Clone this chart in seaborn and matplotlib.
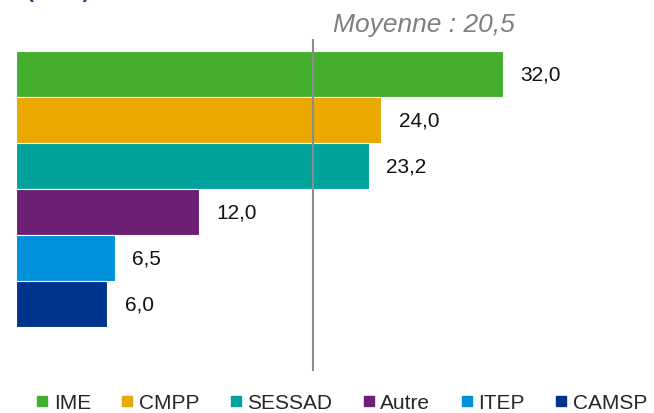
import pandas as pd
import seaborn as sns
import matplotlib.pyplot as plt
from matplotlib.lines import Line2D

# values
categories = ['IME', 'CMPP', 'SESSAD', 'Autre', 'ITEP', 'CAMSP']
values = [32.0, 24.0, 23.2, 12.0, 6.5, 6.0]
labels = ['32,0', '24,0', '23,2', '12,0', '6,5', '6,0']
moyenne_label = 'Moyenne : 20,5'
moyenne_pos = 19.5   # where the mean line is drawn on the bar scale

colors = {
    'IME': '#43AF2C',
    'CMPP': '#EAA800',
    'SESSAD': '#00A39B',
    'Autre': '#6C1F75',
    'ITEP': '#0091DA',
    'CAMSP': '#00338D',
}

sns.set_style('white')
plt.rcParams['font.family'] = ['Liberation Sans', 'DejaVu Sans']

df = pd.DataFrame({'categorie': categories, 'valeur': values})

W, H = 654, 414
f = plt.figure(figsize=(W / 100, H / 100), dpi=100)
ax = f.add_axes([16 / W, 1 - 372 / H, (640 - 16) / W, (372 - 40) / H])

sns.barplot(data=df, x='valeur', y='categorie', hue='categorie',
            palette=colors, saturation=1, width=1.0, dodge=False,
            legend=False, edgecolor='white', linewidth=0.8, ax=ax)

ax.set_xlim(0, 624 / 15.22)
ax.set_ylim(6.457, -0.76)
ax.set(xlabel=None, ylabel=None, xticks=[], yticks=[])
sns.despine(ax=ax, left=True, bottom=True)

# value labels
for i, (v, lab) in enumerate(zip(values, labels)):
    ax.annotate(lab, (v, i), xytext=(12.5, 0), textcoords='offset points',
                ha='left', va='center', fontsize=15, color='#111111')

# mean line, drawn over the bars
ax.axvline(moyenne_pos, color='#8C8C8C', linewidth=1.5, zorder=3)
f.text(333 / W, 1 - 32 / H, moyenne_label, fontsize=19, style='italic',
       color='#7F7F7F', ha='left', va='baseline')

# title cut at the top edge
f.text(27 / W, 1 + 2.5 / H, '(en %)', fontsize=15, fontweight='bold',
       color='#1F3A93', ha='left', va='baseline')

handles = [Line2D([], [], linestyle='none', marker='s', markersize=6.8,
                  markerfacecolor=colors[c], markeredgecolor=colors[c])
           for c in categories]
f.legend(handles, categories, ncol=6, loc='center',
         bbox_to_anchor=(342 / W, 1 - 404 / H), frameon=False, fontsize=15,
         handlelength=0.5, handletextpad=0.3, columnspacing=1.5,
         borderpad=0, borderaxespad=0)

plt.savefig('out.png', dpi=100)
